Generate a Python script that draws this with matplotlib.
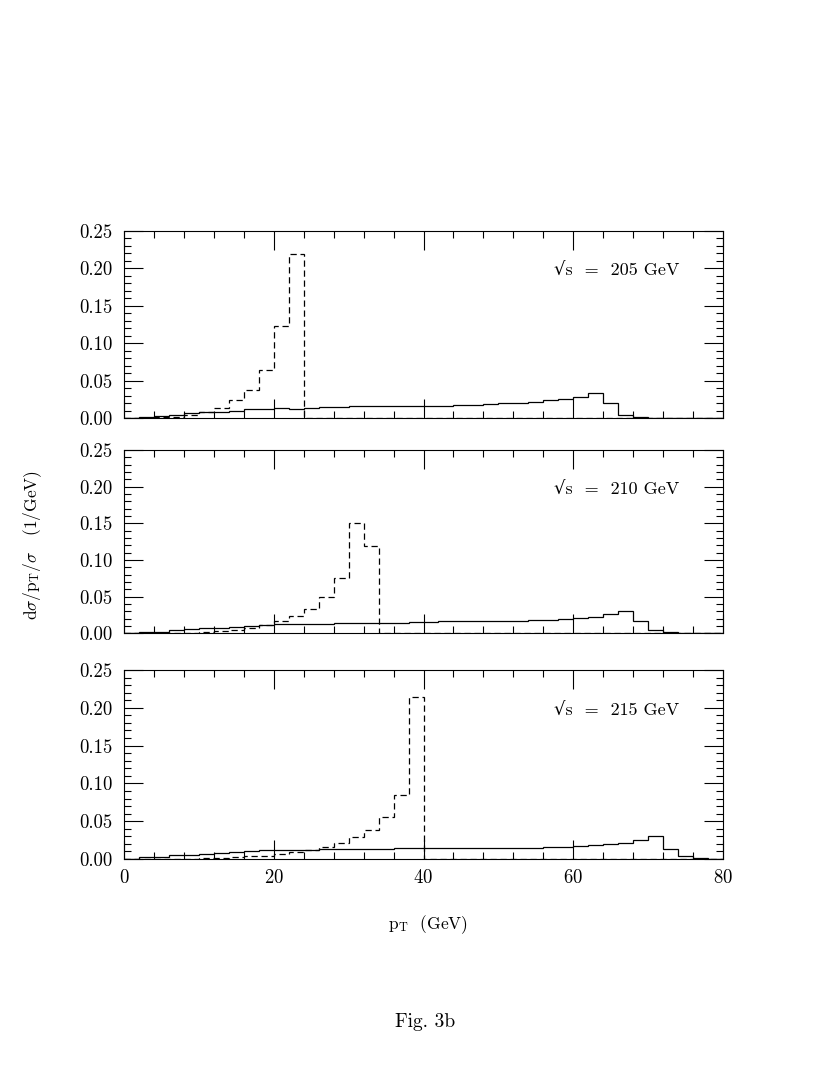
import numpy as np
import matplotlib
matplotlib.use("Agg")
import matplotlib.pyplot as plt
from matplotlib.ticker import MultipleLocator

plt.rcParams['font.family'] = ['cmr10', 'DejaVu Serif']
plt.rcParams['mathtext.fontset'] = 'cm'
plt.rcParams['axes.formatter.use_mathtext'] = True

# 2 GeV bins from 0 to 80
bin_edges = np.arange(0, 82, 2)

# sqrt(s) = 205 GeV
solid_205 = [0.001, 0.002, 0.003, 0.005, 0.007, 0.008, 0.009, 0.010, 0.012, 0.012,
             0.014, 0.013, 0.014, 0.015, 0.0155, 0.016, 0.016, 0.0165, 0.017, 0.0165,
             0.017, 0.017, 0.018, 0.018, 0.019, 0.020, 0.021, 0.022, 0.024, 0.026,
             0.028, 0.0335, 0.021, 0.005, 0.002, 0.001, 0.0005, 0.0004, 0.0003, 0.0002]
dashed_205 = [0.0005, 0.001, 0.0013, 0.002, 0.004, 0.008, 0.014, 0.024, 0.038, 0.065,
              0.123, 0.219, 0, 0, 0, 0, 0, 0, 0, 0,
              0, 0, 0, 0, 0, 0, 0, 0, 0, 0,
              0, 0, 0, 0, 0, 0, 0, 0, 0, 0]

# sqrt(s) = 210 GeV
solid_210 = [0.0005, 0.0014, 0.0023, 0.004, 0.0055, 0.0068, 0.0078, 0.0087, 0.0105, 0.0114,
             0.0123, 0.0123, 0.013, 0.013, 0.0146, 0.0146, 0.0146, 0.0146, 0.0145, 0.015,
             0.016, 0.0162, 0.0164, 0.0165, 0.0166, 0.0168, 0.017, 0.0178, 0.0187, 0.0196,
             0.0205, 0.0224, 0.0265, 0.031, 0.017, 0.0046, 0.0014, 0.0005, 0.0002, 0.0002]
dashed_210 = [0, 0, 0, 0.0005, 0.001, 0.002, 0.003, 0.005, 0.0073, 0.012,
              0.017, 0.023, 0.033, 0.049, 0.076, 0.151, 0.119, 0, 0, 0,
              0, 0, 0, 0, 0, 0, 0, 0, 0, 0,
              0, 0, 0, 0, 0, 0, 0, 0, 0, 0]

# sqrt(s) = 215 GeV
solid_215 = [0.0005, 0.0022, 0.003, 0.0048, 0.0053, 0.007, 0.008, 0.0088, 0.010, 0.0115,
             0.012, 0.0123, 0.0123, 0.013, 0.0132, 0.0135, 0.0137, 0.0138, 0.014, 0.014,
             0.0146, 0.014, 0.015, 0.015, 0.015, 0.015, 0.0152, 0.015, 0.0154, 0.0154,
             0.0168, 0.018, 0.0198, 0.0216, 0.0247, 0.030, 0.0132, 0.004, 0.001, 0.0005]
dashed_215 = [0, 0, 0, 0, 0.0005, 0.0008, 0.0013, 0.0022, 0.0044, 0.0044,
              0.006, 0.009, 0.012, 0.0154, 0.0216, 0.029, 0.038, 0.055, 0.084, 0.214,
              0, 0, 0, 0, 0, 0, 0, 0, 0, 0,
              0, 0, 0, 0, 0, 0, 0, 0, 0, 0]

energies = [205, 210, 215]
solid_sets = [solid_205, solid_210, solid_215]
dashed_sets = [dashed_205, dashed_210, dashed_215]

W, H = 817, 1090
fig = plt.figure(figsize=(W / 100, H / 100), dpi=100)

# panel frames in pixels: (top, bottom)
frames = [(230.7, 418.3), (450.0, 633.3), (670.0, 859.0)]
left_px, right_px = 124, 723

for i, (top, bot) in enumerate(frames):
    ax = fig.add_axes([left_px / W, 1 - bot / H, (right_px - left_px) / W, (bot - top) / H])
    ax.stairs(solid_sets[i], bin_edges, color='black', linewidth=0.9)
    ax.stairs(dashed_sets[i], bin_edges, color='black', linewidth=0.9,
              linestyle=(0, (5, 3)))
    ax.set_xlim(0, 80)
    ax.set_ylim(0, 0.25)
    ax.xaxis.set_major_locator(MultipleLocator(20))
    ax.xaxis.set_minor_locator(MultipleLocator(4))
    ax.yaxis.set_major_locator(MultipleLocator(0.05))
    ax.yaxis.set_minor_locator(MultipleLocator(0.01))
    ax.yaxis.set_major_formatter(plt.FuncFormatter(lambda v, p: f"{v:.2f}"))
    ax.tick_params(which='both', direction='in', top=True, right=True,
                   labelsize=13.5, width=0.8)
    ax.tick_params(which='major', length=14)
    ax.tick_params(which='minor', length=5)
    ax.tick_params(axis='y', pad=8)
    if i < 2:
        ax.tick_params(labelbottom=False)
    else:
        ax.tick_params(axis='x', pad=7)
    for sp in ax.spines.values():
        sp.set_linewidth(0.8)
    ax.text(74.2, 0.197, f"√s  =  {energies[i]} GeV", ha='right', va='center',
            fontsize=13, family=['cmr10', 'DejaVu Serif'])

fig.text(33 / W, 1 - 545 / H, r"d$\sigma$/p$_{\rm T}$/$\sigma$   (1/GeV)",
         rotation=90, ha='center', va='center', fontsize=12.5)
fig.text(428 / W, 1 - 925 / H, r"p$_{\rm T}$  (GeV)", ha='center', va='center',
         fontsize=12.5)
fig.text(425 / W, 1 - 1022 / H, "Fig. 3b", ha='center', va='center', fontsize=14)

fig.savefig("out.png", dpi=100)
